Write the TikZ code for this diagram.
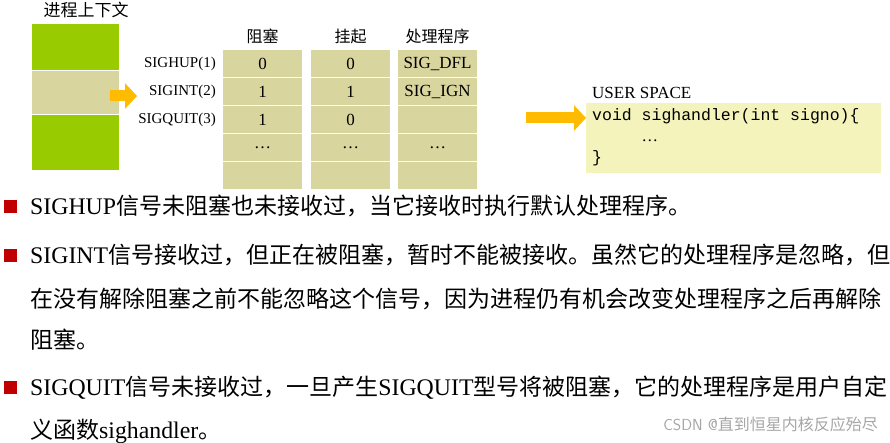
\documentclass[tikz,border=0pt]{standalone}
\usepackage{fontspec}
\setmainfont{Liberation Serif}
\setmonofont{Liberation Mono}
\newfontfamily\cjk{Noto Sans CJK SC}
\usetikzlibrary{positioning}
\usetikzlibrary{arrows.meta}
\definecolor{lime}{HTML}{99CC00}
\definecolor{khaki}{HTML}{D8D59E}
\definecolor{paleyel}{HTML}{F5F3BC}
\definecolor{amber}{HTML}{FFBB00}
\definecolor{bulletred}{HTML}{C00000}
\tikzset{%
    cell/.style={inner sep=0pt,outer sep=0pt,shape=rectangle,fill=khaki,minimum width=79pt,minimum height=27pt},
    head/.style={font=\cjk\fontsize{16}{18}\selectfont,inner sep=0pt},
    signame/.style={anchor=east,inner sep=0pt,font=\fontsize{15}{17}\selectfont},
    bigarrow/.style={amber,line width=11pt,-{Triangle[length=12pt,width=25pt]}},
    bullet/.style={fill=bulletred,minimum size=13pt,inner sep=0pt,anchor=west},
    line/.style={anchor=base west,inner sep=0pt,font=\fontsize{23.8}{26}\selectfont},
}
\newcommand{\zh}[1]{{\cjk\fontsize{23}{26}\selectfont #1}}
\newcommand{\tab}{\fontsize{17}{19}\selectfont}
\begin{document}
\begin{tikzpicture}[x=1pt,y=-1pt]
    \useasboundingbox (0,0) rectangle (890,443);

    %进程上下文
    \node[head,font=\cjk\fontsize{17}{19}\selectfont] (ctxlabel) at (86,10) {进程上下文};
    \fill[lime] (32,24) rectangle (119,70);
    \fill[khaki] (32,71) rectangle (119,114);
    \fill[lime] (32,115) rectangle (119,170);

    %表格
    \foreach \c/\x in {0/262.5,1/350.5,2/437.5}
      \foreach \r in {0,...,4}
        \node[cell] (c\c r\r) at (\x,{63.5+28*\r}) {};
    \node[head,above=6pt of c0r0] (hblock) {阻塞};
    \node[head,above=6pt of c1r0] (hpend) {挂起};
    \node[head,above=6pt of c2r0] (hhandler) {处理程序};
    \foreach \r/\b/\p/\h in {0/0/0/SIG\_DFL,1/1/1/SIG\_IGN,2/1/0/{},3/\dots/\dots/\dots} {
        \node at (c0r\r) {\tab\b};
        \node at (c1r\r) {\tab\p};
        \node at (c2r\r) {\tab\h};
    }
    \node[signame] (sighup) at (216,63.5) {SIGHUP(1)};
    \node[signame] (sigint) at (216,91.5) {SIGINT(2)};
    \node[signame] (sigquit) at (216,119.5) {SIGQUIT(3)};

    %USER SPACE
    \fill[paleyel] (586,103) rectangle (881,173);
    \node[anchor=base west,inner sep=0pt,font=\fontsize{17}{19}\selectfont] (userspace) at (592,99) {USER SPACE};
    \node[anchor=north west,inner sep=0pt,align=left,font=\ttfamily\fontsize{16.5}{21}\selectfont] (code) at (592,108)
        {void sighandler(int signo)\{\\\hspace*{3em}\rmfamily\dots\\\}};

    %箭头
    \coordinate (ctxout) at (110,96);
    \coordinate (quitout) at (526,118);
    \draw[bigarrow] (ctxout) -- (137,96);
    \draw[bigarrow] (quitout) -- (586,118);

    %说明
    \foreach \y in {207,256,387} \node[bullet] at (4,\y) {};
    \node[line] (l1) at (30,215) {SIGHUP\zh{信号未阻塞也未接收过，当它接收时执行默认处理程序。}};
    \node[line] (l2) at (30,264) {SIGINT\zh{信号接收过，但正在被阻塞，暂时不能被接收。虽然它的处理程序是忽略，但}};
    \node[line] (l3) at (30,307) {\zh{在没有解除阻塞之前不能忽略这个信号，因为进程仍有机会改变处理程序之后再解除}};
    \node[line] (l4) at (30,348) {\zh{阻塞。}};
    \node[line] (l5) at (30,395) {SIGQUIT\zh{信号未接收过，一旦产生}SIGQUIT\zh{型号将被阻塞，它的处理程序是用户自定}};
    \node[line] (l6) at (30,438) {\zh{义函数}sighandler\zh{。}};
    \node[anchor=base east,inner sep=0pt,text=black!35,font=\sffamily\fontsize{16}{18}\selectfont] (mark) at (878,430) {CSDN @\cjk 直到恒星内核反应殆尽};
\end{tikzpicture}
\end{document}
